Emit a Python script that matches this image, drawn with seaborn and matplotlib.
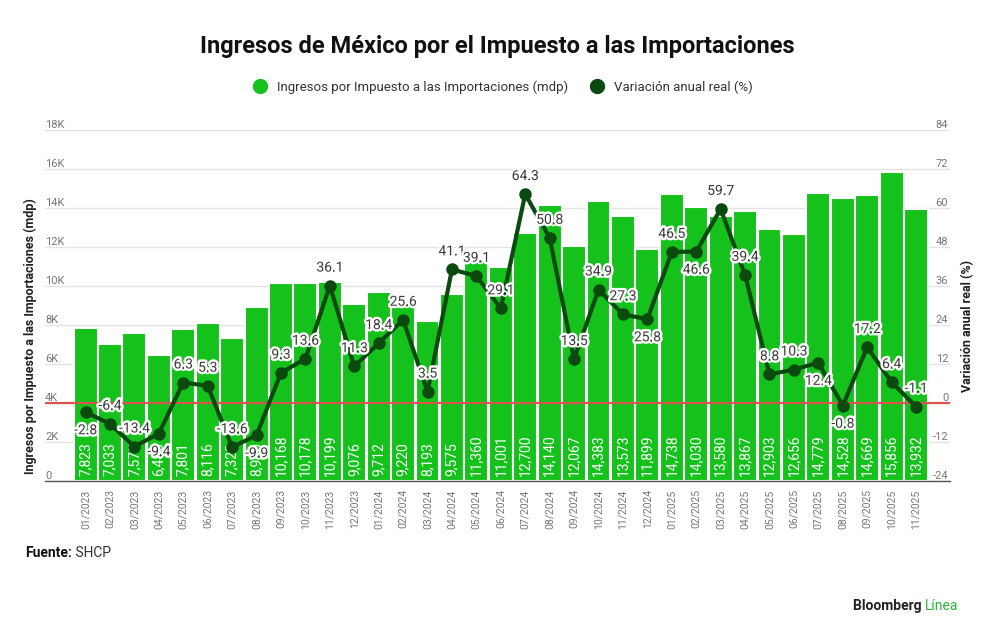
import numpy as np
import pandas as pd
import matplotlib
matplotlib.use("Agg")
import matplotlib.pyplot as plt
import matplotlib.patheffects as pe
from matplotlib.lines import Line2D
import seaborn as sns

# datos
meses = ["01/2023", "02/2023", "03/2023", "04/2023", "05/2023", "06/2023",
         "07/2023", "08/2023", "09/2023", "10/2023", "11/2023", "12/2023",
         "01/2024", "02/2024", "03/2024", "04/2024", "05/2024", "06/2024",
         "07/2024", "08/2024", "09/2024", "10/2024", "11/2024", "12/2024",
         "01/2025", "02/2025", "03/2025", "04/2025", "05/2025", "06/2025",
         "07/2025", "08/2025", "09/2025", "10/2025", "11/2025"]
ingresos = [7823, 7033, 7575, 6480, 7801, 8116, 7320, 8940, 10168, 10178,
            10199, 9076, 9712, 9220, 8193, 9575, 11360, 11001, 12700, 14140,
            12067, 14383, 13573, 11899, 14738, 14030, 13580, 13867, 12903,
            12656, 14779, 14528, 14669, 15856, 13932]
variacion = [-2.8, -6.4, -13.4, -9.4, 6.3, 5.3, -13.6, -9.9, 9.3, 13.6,
             36.1, 11.3, 18.4, 25.6, 3.5, 41.1, 39.1, 29.1, 64.3, 50.8,
             13.5, 34.9, 27.3, 25.8, 46.5, 46.6, 59.7, 39.4, 8.8, 10.3,
             12.4, -0.8, 17.2, 6.4, -1.1]
# posicion de la etiqueta de la linea: 1 arriba, -1 abajo
pos_etiqueta = [-1, 1, 1, -1, 1, 1, 1, -1, 1, 1,
                1, 1, 1, 1, 1, 1, 1, 1, 1, 1,
                1, 1, 1, -1, 1, -1, 1, 1, 1, 1,
                -1, -1, 1, 1, 1]

df = pd.DataFrame({"mes": meses, "ingresos": ingresos, "variacion": variacion})
df["i"] = np.arange(len(df))

VERDE = "#14c21b"
VERDE_OSC = "#0b4a0f"
GRIS = "#777777"

sns.set_style("white")
plt.rcParams["font.family"] = ["Roboto", "DejaVu Sans"]

fig = plt.figure(figsize=(10, 6.4), dpi=100)
ax = fig.add_axes([0.045, 0.2484, 0.905, 0.5484])

sns.barplot(data=df, x="mes", y="ingresos", color=VERDE, saturation=1,
            width=0.98, edgecolor="white", linewidth=1.5, ax=ax, zorder=2)
ax.set_ylim(0, 18000)
ax.set_xlim(-1.66, 35.39)
ax.set_yticks(np.arange(0, 18001, 2000))
ax.yaxis.grid(True, color="#e3e3e3", linewidth=1, zorder=0)
ax.set_axisbelow(True)
ax.set_yticklabels([])
ax.tick_params(axis="y", length=0)
ax.tick_params(axis="x", length=0, labelrotation=90, labelsize=7.5,
               labelcolor=GRIS, pad=6)
ax.set_xlabel("")
ax.set_ylabel("")
for s in ["top", "right", "left"]:
    ax.spines[s].set_visible(False)
ax.spines["bottom"].set_color("#555555")
ax.spines["bottom"].set_linewidth(1)

# etiquetas del eje izquierdo sobre la linea de cuadricula
for v in np.arange(0, 18001, 2000):
    lab = "0" if v == 0 else f"{v // 1000}K"
    ax.text(0.0, v, lab, transform=ax.get_yaxis_transform(), ha="left",
            va="bottom", fontsize=8, color=GRIS)

# valores dentro de las barras
for i, v in enumerate(ingresos):
    ax.text(i, 250, f"{v:,}", rotation=90, ha="center", va="bottom",
            color="white", fontsize=10, zorder=3)

# eje derecho: variacion anual
ax2 = ax.twinx()
ax2.set_ylim(-24, 84)
ax2.set_yticks([])
for s in ["top", "right", "left", "bottom"]:
    ax2.spines[s].set_visible(False)
ax2.axhline(0, color="#d9534f", linewidth=1.6, zorder=3)
sns.lineplot(data=df, x="i", y="variacion", color=VERDE_OSC, linewidth=3,
             marker="o", markersize=9, markeredgewidth=0, ax=ax2, zorder=4)
ax2.set_xlabel("")
ax2.set_ylabel("")
for v in np.arange(-24, 85, 12):
    ax2.text(0.998, v, str(v), transform=ax2.get_yaxis_transform(),
             ha="right", va="bottom", fontsize=8, color=GRIS)

for i, (v, p) in enumerate(zip(variacion, pos_etiqueta)):
    ax2.annotate(f"{v}", (i, v), xytext=(0, 8 * p), textcoords="offset points",
                 ha="center", va="bottom" if p > 0 else "top",
                 fontsize=10, color="#3a3a3a", zorder=5,
                 path_effects=[pe.withStroke(linewidth=3.5, foreground="white")])

# titulos de ejes
fig.text(0.03, 0.475, "Ingresos por Impuesto a las Importaciones (mdp)",
         rotation=90, ha="center", va="center", fontsize=9, fontweight="bold",
         color="#222222")
fig.text(0.968, 0.49, "Variación anual real (%)", rotation=90, ha="center",
         va="center", fontsize=9, fontweight="bold", color="#222222")

# titulo y leyenda
fig.text(0.497, 0.928, "Ingresos de México por el Impuesto a las Importaciones",
         ha="center", va="center", fontsize=17, fontweight="bold",
         color="#111111")
handles = [Line2D([], [], marker="o", linestyle="", markersize=10,
                  color=VERDE, label="Ingresos por Impuesto a las Importaciones (mdp)"),
           Line2D([], [], marker="o", linestyle="", markersize=10,
                  color=VERDE_OSC, label="Variación anual real (%)")]
fig.legend(handles=handles, loc="center", bbox_to_anchor=(0.5, 0.864),
           ncol=2, frameon=False, fontsize=9.5, handletextpad=0.3,
           columnspacing=1.2, labelcolor="#333333")

# fuente y logo
t1 = fig.text(0.025, 0.136, "Fuente:", fontsize=10, fontweight="bold",
              color="#111111", va="center")
ax.annotate(" SHCP", xy=(1, 0.5), xycoords=t1, va="center", fontsize=10,
            color="#333333", annotation_clip=False)
t2 = fig.text(0.925, 0.053, "Línea", fontsize=10, color="#2bb33a",
              ha="left", va="center")
ax.annotate("Bloomberg ", xy=(0, 0.5), xycoords=t2, ha="right", va="center",
            fontsize=10, fontweight="bold", color="#222222",
            annotation_clip=False)

fig.savefig("out.png", dpi=100)
